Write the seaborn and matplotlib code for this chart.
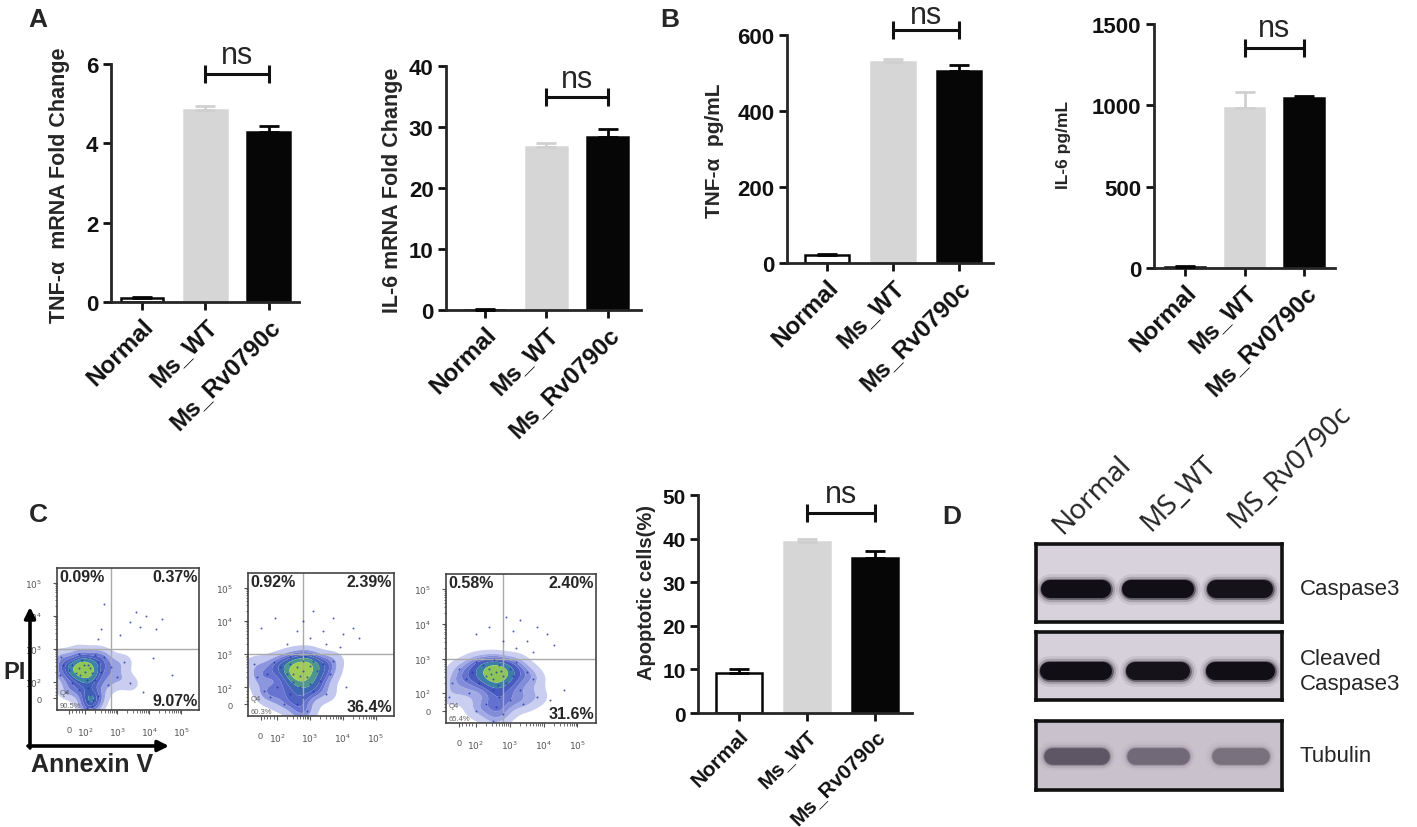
import numpy as np
import matplotlib.pyplot as plt
import seaborn as sns
from matplotlib.colors import LinearSegmentedColormap

# bar chart data (mean, upper error)
groups = ['Normal', 'Ms_WT', 'Ms_Rv0790c']
tnf_mrna = [0.10, 4.83, 4.28]
tnf_mrna_err = [0.03, 0.12, 0.15]
il6_mrna = [0.05, 26.8, 28.4]
il6_mrna_err = [0.1, 0.5, 1.2]
tnf_pg = [20, 528, 506]
tnf_pg_err = [4, 9, 15]
il6_pg = [8, 981, 1047]
il6_pg_err = [3, 103, 12]
apoptotic = [9.1, 39.3, 35.5]
apoptotic_err = [1.0, 0.6, 1.7]

# flow cytometry quadrant percentages (UL, UR, LR, LL)
q_ul = ['0.09%', '0.92%', '0.58%']
q_ur = ['0.37%', '2.39%', '2.40%']
q_lr = ['9.07%', '36.4%', '31.6%']
q_ll = ['90.5%', '60.3%', '65.4%']

# approximate event positions (decade units)
normal_x = [0.1, 0.3, 0.5, 0.6, 0.4, 0.7, 0.55, 0.6, 0.65, 0.6, 0.7, 0.55, 0.2, 0.0, -0.2, -0.3, -0.25, 0.9,
            1.0, 1.1, 0.8, 0.3, 1.3, 1.5, 1.7, 1.9, 1.2, 0.9, 0.3, 0.1, -0.1, 0.45, 0.65, 0.35, 0.8, 0.75]
normal_y = [1.0, 0.9, 0.8, 1.0, 1.15, 0.75, 0.55, 0.3, 0.1, -0.1, -0.25, -0.3, 0.75, 0.85, 1.0, 0.7, 1.25, 1.1,
            0.8, 1.25, 1.3, 1.35, 0.95, 0.65, 1.1, 0.45, 0.4, 0.05, 0.25, 0.45, 0.2, 1.0, 0.9, 0.7, 0.55, -0.05]
normal_sx = [1.9, 2.2, 2.4, 2.7, 1.6, 2.1, 1.0, 1.1, 0.9, 3.2, 2.6, 2.9, 2.3]
normal_sy = [2.3, 2.15, 2.5, 2.1, 1.9, 2.6, 2.1, 2.85, 1.8, 0.7, 1.2, 2.4, 0.2]

wt_x = [1.3, 1.1, 1.5, 1.2, 1.4, 0.9, 1.7, 1.0, 1.6, 1.3, 0.8, 1.9, 2.1, 1.8, 0.6, 0.4, 0.2, -0.1, -0.2, 0.1,
        0.5, 1.2, 1.3, 1.1, 1.4, 1.2, 0.9, 1.6, 2.0, 0.7, 1.5, 1.0, 2.2, 0.3, 1.35, 0.9]
wt_y = [1.0, 1.1, 1.15, 0.85, 0.8, 1.2, 1.0, 0.9, 1.3, 1.3, 0.9, 1.2, 0.9, 0.7, 1.1, 1.25, 0.9, 0.8, 1.2, 0.4,
        0.5, 0.5, 0.2, 0.0, -0.2, -0.35, 0.3, 0.4, 0.3, 0.0, 0.6, 0.65, 1.3, 0.2, 1.45, 1.4]
wt_sx = [1.3, 1.6, 1.9, 2.2, 2.5, 2.8, 1.5, 2.0, 0.0, 0.45, 0.8, 1.1, 2.4, 3.0, 2.6]
wt_sy = [2.5, 2.8, 2.2, 2.6, 2.1, 2.3, 2.0, 1.8, 2.3, 2.6, 1.8, 2.2, 1.7, 2.0, 0.5]

rv_x = [1.1, 0.9, 1.3, 1.0, 1.2, 0.8, 1.5, 0.7, 1.4, 1.6, 0.6, 0.4, 0.2, 0.0, -0.2, -0.3, 0.3, 1.0, 1.2, 1.1,
        1.3, 1.0, 0.8, 1.5, 1.8, 2.0, 2.2, 1.9, 0.5, 1.7, 1.05, 0.5, 1.15, 0.95, 1.25, 2.3]
rv_y = [1.1, 1.2, 1.0, 0.9, 1.3, 1.0, 1.2, 1.3, 0.8, 1.0, 0.8, 1.1, 0.9, 1.2, 0.8, 0.4, 0.5, 0.6, 0.4, 0.1,
        -0.1, -0.3, 0.2, 0.3, 0.6, 1.1, 0.9, 0.2, 0.0, 1.4, 1.45, 1.4, 0.75, 1.05, 1.15, 0.4]
rv_sx = [1.4, 1.6, 1.8, 2.0, 2.3, 2.6, 1.3, 1.7, 0.5, 0.9, 2.2, 2.8, 3.1, 2.7]
rv_sy = [2.7, 2.3, 2.6, 2.0, 2.4, 2.2, 2.0, 1.8, 2.2, 2.4, 1.7, 1.9, 0.6, 0.3]

# western blot
blot_lanes = ['Normal', 'MS_WT', 'MS_Rv0790c']
blot_rows = ['Caspase3', 'Cleaved\nCaspase3', 'Tubulin']
caspase3_band = [1.0, 1.0, 0.95]
caspase3_len = [0.64, 0.66, 0.58]
cleaved_band = [1.0, 0.95, 1.0]
cleaved_len = [0.66, 0.56, 0.62]
tubulin_band = [0.6, 0.45, 0.4]
tubulin_len = [0.6, 0.56, 0.5]

W, H = 1417, 828
sns.set_style('ticks')
plt.rcParams['font.family'] = ['Liberation Sans', 'DejaVu Sans']
fig = plt.figure(figsize=(W / 100, H / 100), dpi=100)


def px_axes(x0, y0, x1, y1):
    return fig.add_axes([x0 / W, 1 - y1 / H, (x1 - x0) / W, (y1 - y0) / H])


bar_colors = ['white', '#d6d6d6', '#060606']
bar_edges = ['#060606', '#d6d6d6', '#060606']
err_colors = ['#060606', '#d0d0d0', '#060606']


def bar_panel(box, xlim, vals, errs, ytop, ystep, ylabel, lab_xy, lab_size, bracket, ns_y,
              xfont=17.5, yfont=16):
    ax = px_axes(*box)
    sns.barplot(x=groups, y=vals, hue=groups, palette=bar_colors, width=0.67, saturation=1,
                errorbar=None, legend=False, ax=ax)
    for p, ec in zip(ax.patches, bar_edges):
        p.set_edgecolor(ec)
        p.set_linewidth(1.8)
    for i in range(3):
        ax.errorbar(i, vals[i], yerr=[[0], [errs[i]]], fmt='none', ecolor=err_colors[i],
                    elinewidth=2, capsize=7.5, capthick=2, clip_on=False, zorder=3)
    ax.set_xlim(*xlim)
    ax.set_ylim(0, ytop)
    ticks = np.arange(0, ytop + ystep / 2, ystep)
    ax.set_yticks(ticks)
    ax.set_yticklabels([f'{t:g}' for t in ticks], fontsize=yfont, fontweight='bold')
    ax.set_xticks(range(3))
    ax.set_xticklabels(groups, rotation=45, ha='right', rotation_mode='anchor',
                       fontsize=xfont, fontweight='bold')
    ax.set_xlabel('')
    sns.despine(ax=ax)
    for s in ['left', 'bottom']:
        ax.spines[s].set_linewidth(2)
    ax.tick_params(length=6, width=2, pad=3, colors='#111111')
    ax.set_ylabel(ylabel, fontsize=lab_size, fontweight='bold')
    bx = (lab_xy[0] - box[0]) / (box[2] - box[0])
    by = (box[3] - lab_xy[1]) / (box[3] - box[1])
    ax.yaxis.set_label_coords(bx, by)
    ax.plot([1, 2], [bracket, bracket], color='#111111', lw=2.2, marker='|', ms=13, mew=2.2,
            clip_on=False)
    ax.text(1.5, ns_y, 'ns', ha='center', va='baseline', fontsize=22, clip_on=False)
    ax.set_facecolor('none')
    return ax


bar_panel((111, 65, 299, 303), (-0.49, 2.48), tnf_mrna, tnf_mrna_err, 6, 2,
          'TNF-α  mRNA Fold Change', (70, 185), 15.5, 5.75, 6.03)
bar_panel((446, 67, 641, 311), (-0.63, 2.54), il6_mrna, il6_mrna_err, 40, 10,
          'IL-6 mRNA Fold Change', (403, 190), 15.5, 35.0, 36.5)
bar_panel((787, 36, 993, 264), (-0.61, 2.52), tnf_pg, tnf_pg_err, 600, 200,
          'TNF-α  pg/mL', (724, 151), 15, 612, 632)
bar_panel((1154, 25, 1335, 269), (-0.52, 2.52), il6_pg, il6_pg_err, 1500, 500,
          'IL-6 pg/mL', (1071, 145), 12.5, 1350, 1429)
bar_panel((698, 496, 912, 714), (-0.60, 2.54), apoptotic, apoptotic_err, 50, 10,
          'Apoptotic cells(%)', (656, 592), 14.5, 45.8, 48.3, xfont=15, yfont=15)

# flow cytometry dot plots
flow_cmap = LinearSegmentedColormap.from_list(
    'flow', ['#e2e5f8', '#a3abe6', '#6572cf', '#3f55bb', '#3b84a6', '#6dba5e', '#dfe54a'])
dec_major = [0, 0.5, 1.5, 2.5, 3.5]
dec_labels = ['0', '$10^2$', '$10^3$', '$10^4$', '$10^5$']
dec_minor = [b + np.log10(k) for b in [0.5, 1.5, 2.5] for k in range(2, 10)] + [0.1, 0.2, 0.3, 0.4]


def flow_panel(box, xs, ys, sxs, sys_, i):
    ax = px_axes(*box)
    sns.kdeplot(x=xs, y=ys, fill=True, cmap=flow_cmap, levels=8, thresh=0.06,
                bw_adjust=0.85, antialiased=True, ax=ax)
    ax.scatter(list(xs) + list(sxs), list(ys) + list(sys_), s=2, color='#2637a8', lw=0,
               alpha=0.8, zorder=3)
    ax.axvline(1.3, color='#aaaaaa', lw=1)
    ax.axhline(1.5, color='#aaaaaa', lw=1)
    ax.set_xlim(-0.38, 4.05)
    ax.set_ylim(-0.36, 3.94)
    ax.set_xlabel('')
    ax.set_ylabel('')
    for s in ax.spines.values():
        s.set_linewidth(1.2)
        s.set_color('#444444')
    ax.set_xticks(dec_major)
    ax.set_xticklabels(dec_labels)
    ax.set_yticks(dec_major)
    ax.set_yticklabels(dec_labels)
    ax.set_xticks(dec_minor, minor=True)
    ax.set_yticks(dec_minor, minor=True)
    ax.tick_params(which='major', length=3, width=0.8, labelsize=6.5, colors='#555555', pad=8)
    ax.tick_params(which='minor', length=1.8, width=0.6, colors='#555555')
    ax.text(-0.3, 3.9, q_ul[i], ha='left', va='top', fontsize=11.5, fontweight='bold')
    ax.text(4.0, 3.9, q_ur[i], ha='right', va='top', fontsize=11.5, fontweight='bold')
    ax.text(4.0, -0.3, q_lr[i], ha='right', va='bottom', fontsize=11.5, fontweight='bold')
    ax.text(-0.3, 0.05, 'Q4', ha='left', va='bottom', fontsize=5.5, color='#666666')
    ax.text(-0.3, -0.32, q_ll[i], ha='left', va='bottom', fontsize=5.5, color='#666666')
    return ax


flow_panel((57, 569, 199, 711), normal_x, normal_y, normal_sx, normal_sy, 0)
flow_panel((248, 574, 394, 717), wt_x, wt_y, wt_sx, wt_sy, 1)
flow_panel((446, 575, 596, 724), rv_x, rv_y, rv_sx, rv_sy, 2)


# western blot strips
def blot_panel(box, bands, lens, yc, lw, dark, bg):
    ax = px_axes(*box)
    ax.set_xlim(-0.49, 2.51)
    ax.set_ylim(0, 1)
    ax.set_facecolor(bg)
    for i, (a, ln) in enumerate(zip(bands, lens)):
        for grow, al in [(1.7, 0.08), (1.4, 0.18), (1.15, 0.45), (1.0, 1.0)]:
            ax.plot([i - ln / 2, i + ln / 2], [yc, yc], color=dark, lw=lw * grow,
                    alpha=a * al, solid_capstyle='round')
    ax.set_xticks([])
    ax.set_yticks([])
    for s in ax.spines.values():
        s.set_linewidth(2.6)
        s.set_color('#111111')
    return ax


blot_panel((1036, 545, 1282, 623), caspase3_band, caspase3_len, 0.42, 13, '#120e15', '#d8d2dc')
blot_panel((1036, 633, 1282, 701), cleaved_band, cleaved_len, 0.43, 13, '#120e15', '#d6d0da')
blot_panel((1036, 722, 1282, 791), tubulin_band, tubulin_len, 0.49, 12, '#3d3344', '#c9c2cc')

# overlay for letters, arrows and free labels
ov = fig.add_axes([0, 0, 1, 1])
ov.set_xlim(0, W)
ov.set_ylim(H, 0)
ov.axis('off')
ov.patch.set_alpha(0)
for letter, (lx, ly) in zip('ABCD', [(38, 20), (670, 20), (38, 515), (952, 517)]):
    ov.text(lx, ly, letter, ha='center', va='center', fontsize=19, fontweight='bold')

ov.annotate('', xy=(30, 608), xytext=(30, 749),
            arrowprops=dict(arrowstyle='-|>', lw=2.6, color='black', mutation_scale=16,
                            shrinkA=0, shrinkB=0))
ov.annotate('', xy=(169, 747), xytext=(28, 747),
            arrowprops=dict(arrowstyle='-|>', lw=2.6, color='black', mutation_scale=16,
                            shrinkA=0, shrinkB=0))
ov.text(15, 673, 'PI', ha='center', va='center', fontsize=17, fontweight='bold')
ov.text(31, 765, 'Annexin V', ha='left', va='center', fontsize=18, fontweight='bold')

for name, (hx, hy) in zip(blot_lanes, [(1067, 540), (1155, 537), (1242, 534)]):
    ov.text(hx, hy, name, rotation=45, ha='left', va='bottom', rotation_mode='anchor',
            fontsize=20, family=['Noto Sans', 'DejaVu Sans'])
for name, ry in zip(blot_rows, [590, 672, 757]):
    ov.text(1300, ry, name, ha='left', va='center', fontsize=16, linespacing=1.25,
            family=['Liberation Sans Narrow', 'Liberation Sans'])

fig.savefig('out.png', dpi=100)
